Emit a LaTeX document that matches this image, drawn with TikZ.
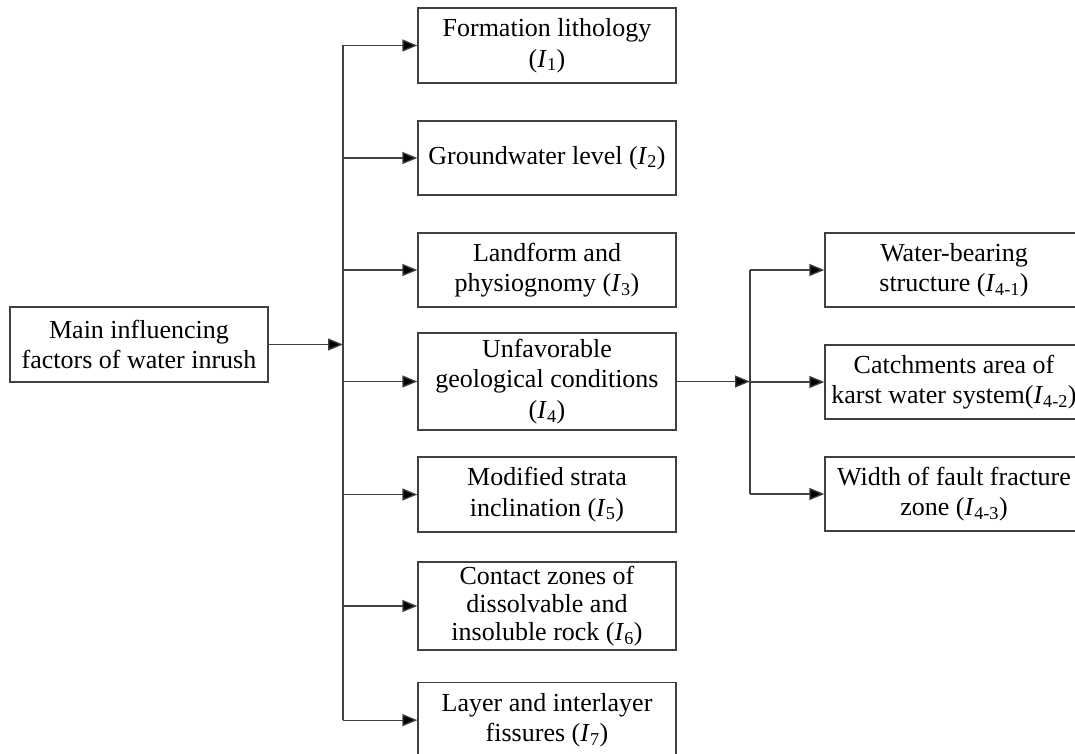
\documentclass[tikz,border=0pt]{standalone}
\usepackage{fontspec}
\setmainfont{Liberation Serif}
\usetikzlibrary{arrows.meta}
\newcommand{\Ix}[1]{\textit{I}\textsubscript{#1}}
\begin{document}
\begin{tikzpicture}[x=1pt,y=-1pt,
  box/.style={draw=black!75,line width=1.3pt,rectangle,minimum width=258pt,inner sep=0pt,align=center,font=\fontsize{26}{30.5}\selectfont},
  tight/.style={font=\fontsize{26}{28}\selectfont},
  conn/.style={draw=black!75,line width=1.3pt},
  arr/.style={conn,-{Triangle[length=15pt,width=12pt,fill=black]}}]
\useasboundingbox (0,0) rectangle (1075,754);
\clip (0,0) rectangle (1075,754);
\fill[white] (0,0) rectangle (1075,754);
\node[box,minimum height=75pt] (m) at (139,344.5) {Main influencing\\factors of water inrush};
\node[box,minimum height=75pt] (b1) at (547,45.5) {Formation lithology\\(\Ix{1})};
\node[box,minimum height=74pt] (b2) at (547,158) {Groundwater level (\Ix{2})};
\node[box,minimum height=74pt] (b3) at (547,270) {Landform and\\physiognomy (\Ix{3})};
\node[box,minimum height=97pt] (b4) at (547,381.5) {Unfavorable\\geological conditions\\(\Ix{4})};
\node[box,minimum height=75pt] (b5) at (547,494.5) {Modified strata\\inclination (\Ix{5})};
\node[box,tight,minimum height=88pt] (b6) at (547,606) {Contact zones of\\dissolvable and\\insoluble rock (\Ix{6})};
\node[box,minimum height=75pt,anchor=north] (b7) at (547,682) {Layer and interlayer\\fissures (\Ix{7})};
\node[box,minimum height=74pt] (c1) at (954,270) {Water-bearing\\structure (\Ix{4-1})};
\node[box,minimum height=74pt] (c2) at (954,382) {Catchments area of\\karst water system(\Ix{4-2})};
\node[box,minimum height=74pt] (c3) at (954,494) {Width of fault fracture\\zone (\Ix{4-3})};
\coordinate (t) at (343,0);
\coordinate (u) at (750,0);
\draw[conn] (t |- b1.west) -- (t |- b7.west);
\draw[conn] (u |- c1.west) -- (u |- c3.west);
\draw[arr] (m.east) -- (t |- m.east);
\draw[arr] (b4.east) -- (u |- b4.east);
\foreach \b in {b1,b2,b3,b4,b5,b6,b7} \draw[arr] (t |- \b.west) -- (\b.west);
\foreach \c in {c1,c2,c3} \draw[arr] (u |- \c.west) -- (\c.west);
\end{tikzpicture}
\end{document}
